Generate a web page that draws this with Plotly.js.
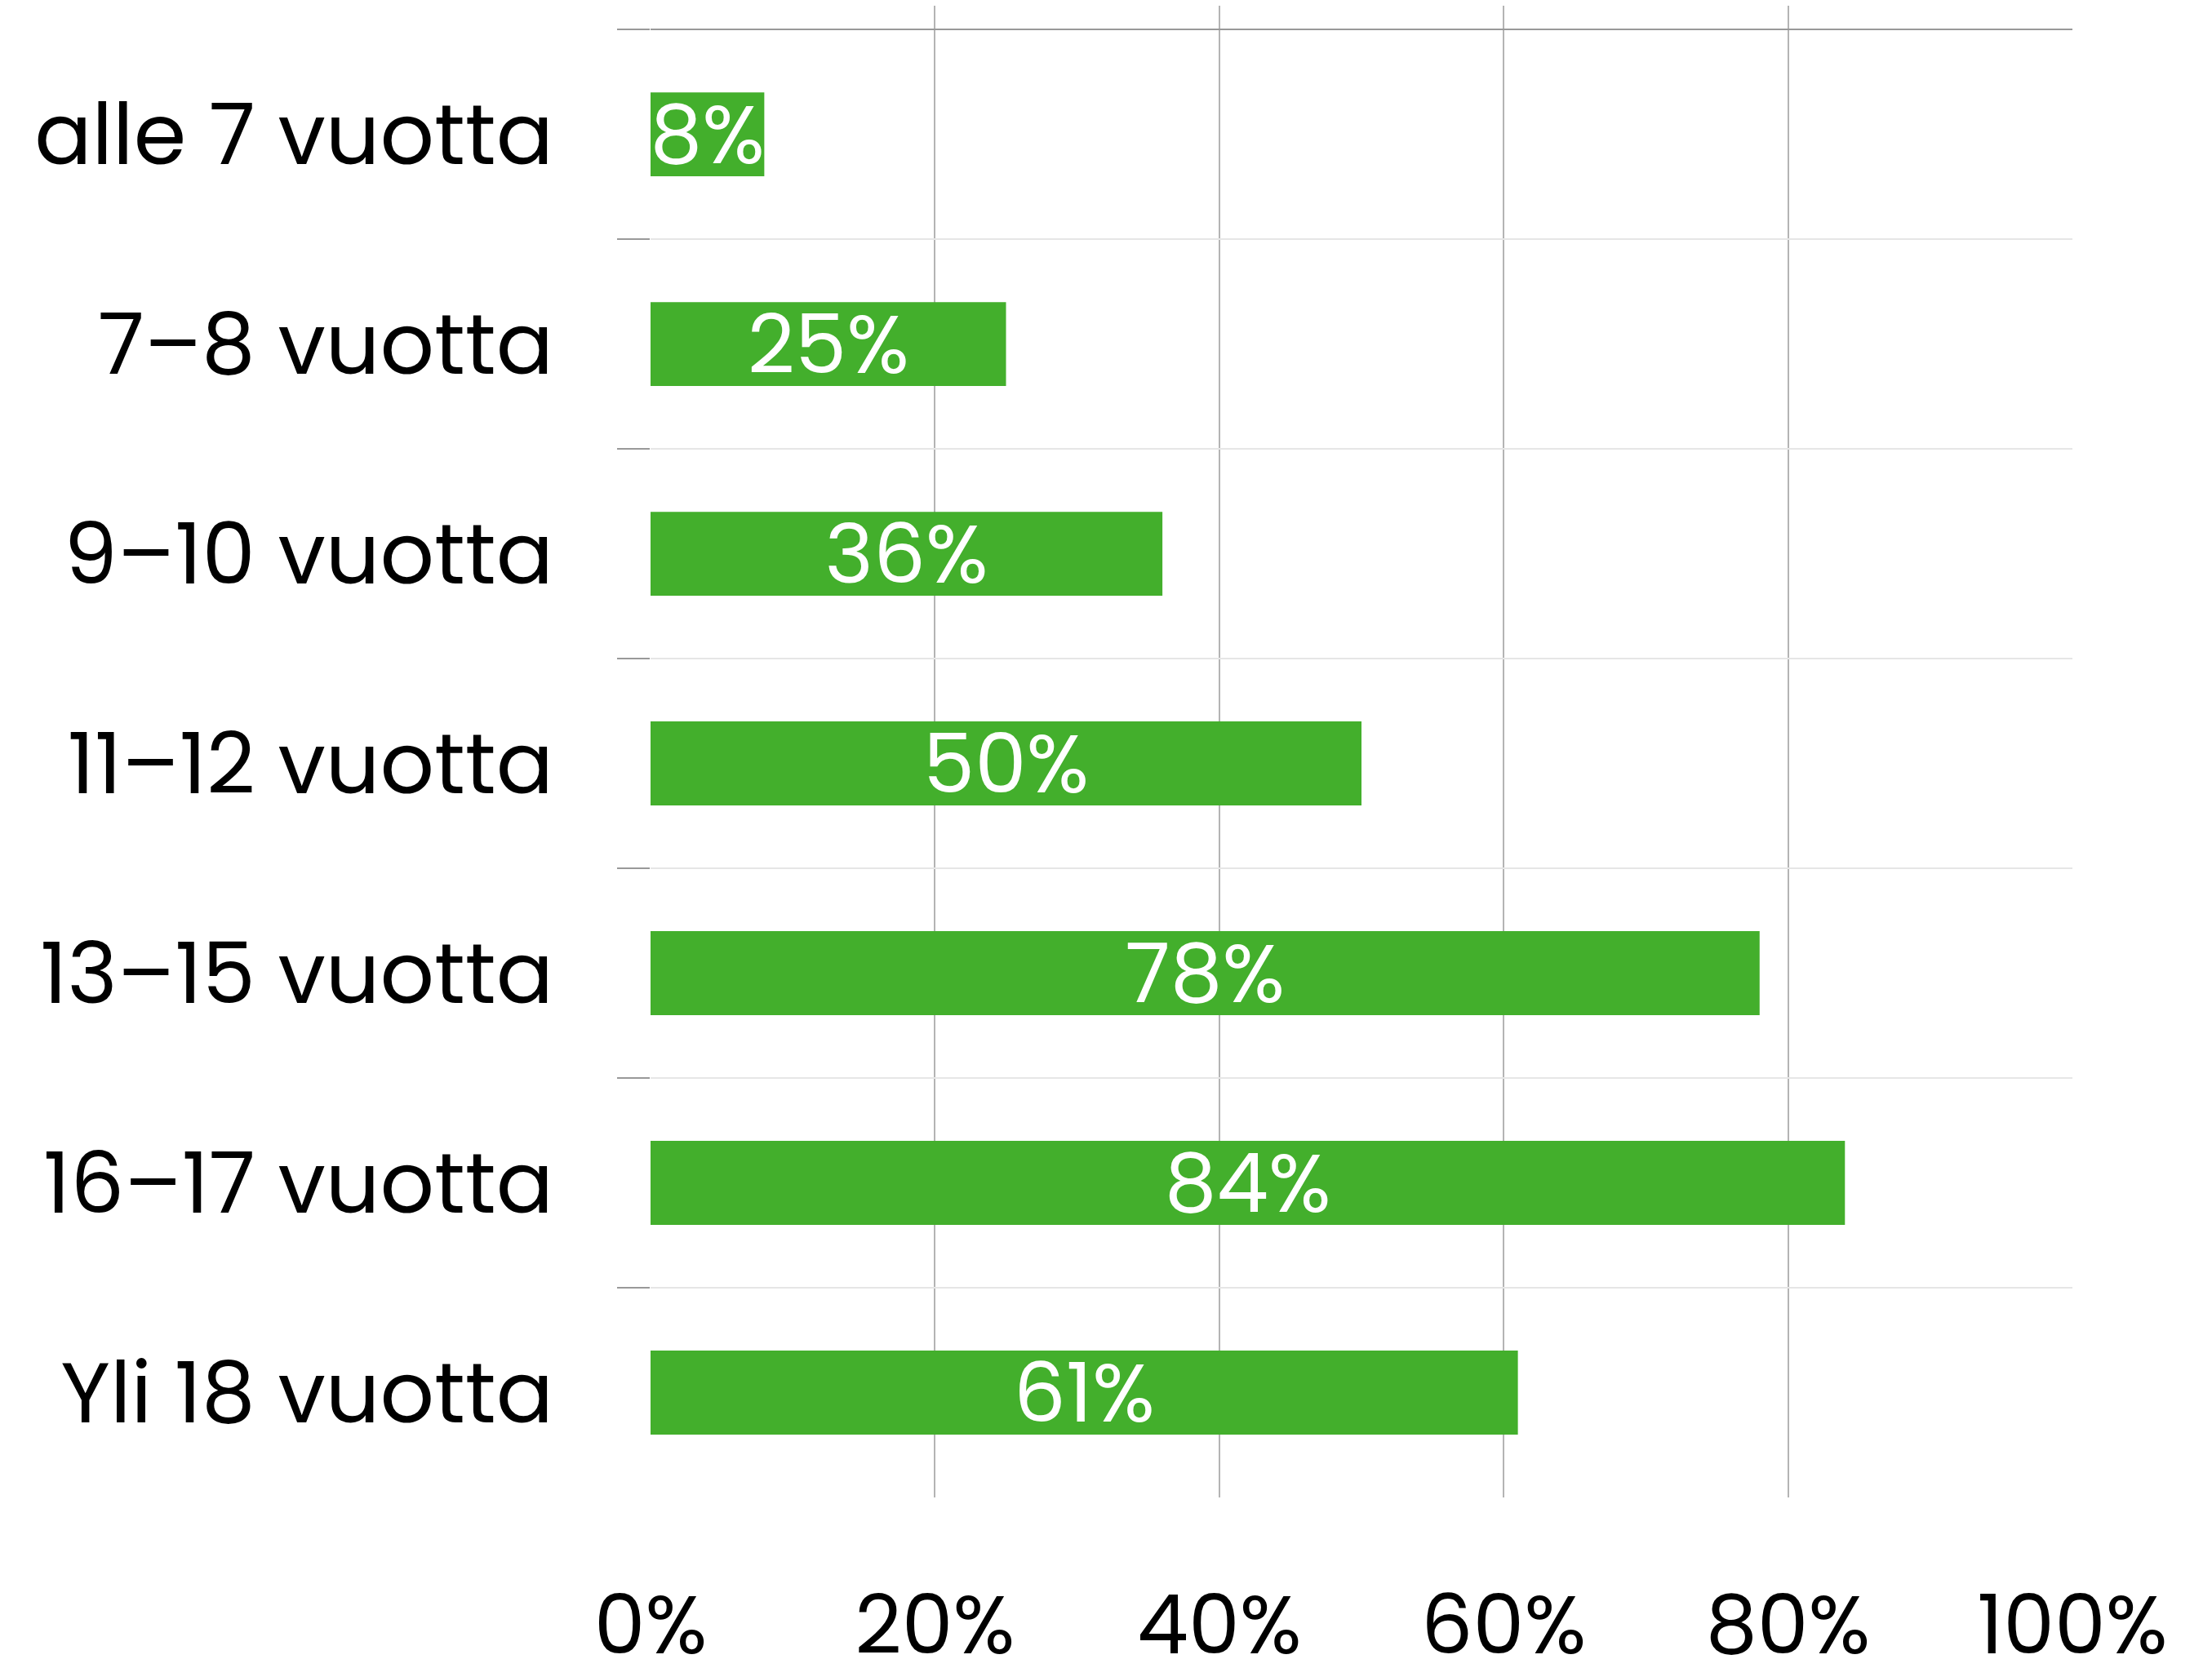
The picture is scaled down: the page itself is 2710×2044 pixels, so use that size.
<!DOCTYPE html>
<html>
<head>
<meta charset="utf-8">
<script src="https://cdn.plot.ly/plotly-3.0.1.min.js"></script>
<style>html,body{margin:0;padding:0;background:#fff;}#chart{width:2710px;height:2044px;}</style>
</head>
<body>
<div id="chart"></div>
<script>
const categories = ["alle 7 vuotta", "7–8 vuotta", "9–10 vuotta", "11–12 vuotta", "13–15 vuotta", "16–17 vuotta", "Yli 18 vuotta"];
const values = [8, 25, 36, 50, 78, 84, 61];
const valueLabels = values.map(v => v + "%");
const xTickVals = [0, 20, 40, 60, 80, 100];
const xTickText = ["0%", "20%", "40%", "60%", "80%", "100%"];

const FONT = "Poppins, Inter, 'Open Sans', sans-serif";

const trace = {
  type: "bar",
  orientation: "h",
  x: values,
  y: categories,
  text: valueLabels,
  textposition: "inside",
  insidetextanchor: "middle",
  constraintext: "none",
  textangle: 0,
  cliponaxis: false,
  textfont: {family: FONT, size: 101, color: "#ffffff"},
  marker: {color: "#43AF2C", line: {width: 0}},
  width: 0.4,
  hoverinfo: "none"
};

const layout = {
  width: 2710,
  height: 2044,
  paper_bgcolor: "#ffffff",
  plot_bgcolor: "#ffffff",
  margin: {l: 797, r: 171, t: 7, b: 209, pad: 0},
  showlegend: false,
  font: {family: FONT, color: "#000000"},
  xaxis: {
    range: [0, 100],
    tickvals: xTickVals,
    ticktext: xTickText,
    showgrid: true,
    gridcolor: "#b4b4b4",
    gridwidth: 2,
    zeroline: false,
    showline: false,
    ticks: "",
    ticklabelstandoff: 90,
    tickfont: {family: FONT, size: 100, color: "#000000"},
    fixedrange: true
  },
  yaxis: {
    type: "category",
    categoryorder: "array",
    categoryarray: categories,
    range: [6.5, -0.613],
    tickson: "boundaries",
    ticks: "outside",
    ticklen: 40,
    tickwidth: 2,
    tickcolor: "#999999",
    showgrid: true,
    gridcolor: "#e6e6e6",
    gridwidth: 2,
    zeroline: false,
    showline: false,
    ticklabelstandoff: 118,
    tickfont: {family: FONT, size: 104, color: "#000000"},
    fixedrange: true
  },
  shapes: [{
    type: "line", xref: "x", yref: "y",
    x0: 0, x1: 100, y0: -0.5, y1: -0.5,
    line: {color: "#999999", width: 2},
    layer: "above"
  }]
};

Plotly.newPlot("chart", [trace], layout, {displayModeBar: false, staticPlot: true});
</script>
</body>
</html>
